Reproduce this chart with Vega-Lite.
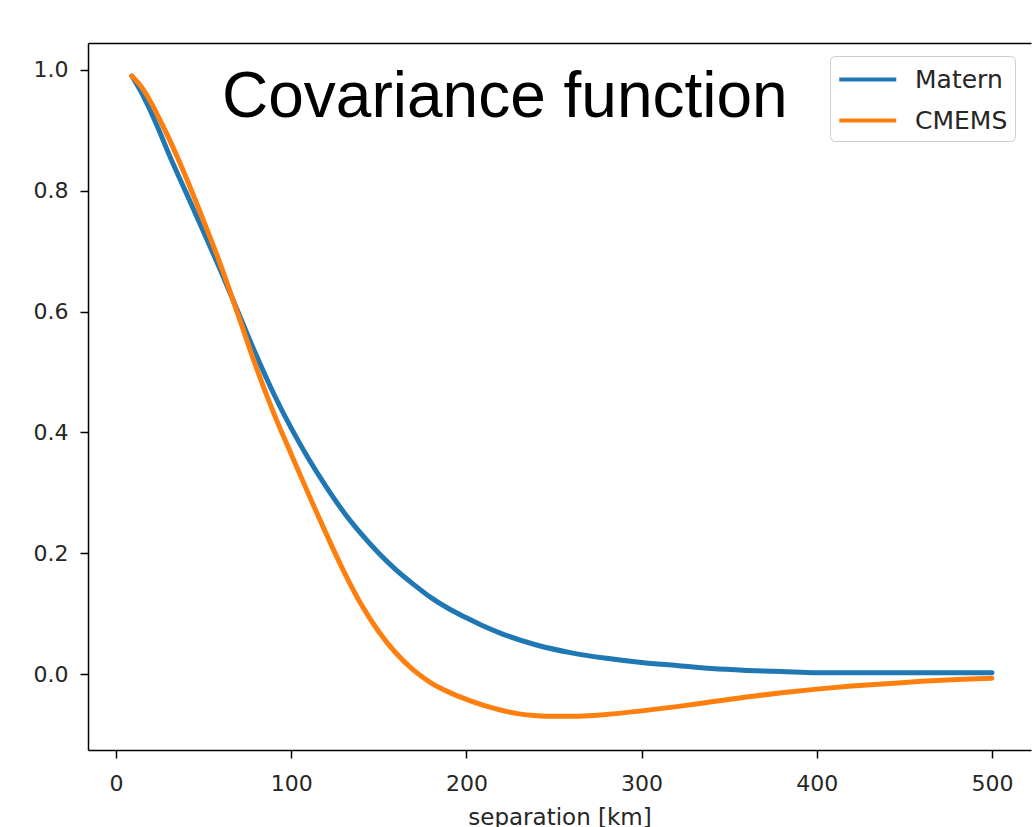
{
  "$schema": "https://vega.github.io/schema/vega-lite/v6.json",
  "width": 943,
  "height": 707,
  "autosize": {"type": "none"},
  "padding": {"left": 88, "top": 43, "right": 1, "bottom": 77},
  "background": "white",
  "config": {
    "view": {"stroke": null},
    "font": "DejaVu Sans",
    "axis": {
      "grid": false,
      "domainColor": "black",
      "domainWidth": 1.5,
      "tickColor": "black",
      "tickWidth": 1.5,
      "tickSize": 8,
      "labelFont": "DejaVu Sans",
      "labelFontSize": 22,
      "labelColor": "#262626",
      "titleFont": "DejaVu Sans",
      "titleFontWeight": "normal",
      "titleFontSize": 23,
      "titleColor": "#262626"
    }
  },
  "title": {
    "text": "Covariance function",
    "font": "Liberation Sans",
    "fontSize": 64,
    "fontWeight": "normal",
    "color": "black",
    "anchor": "start",
    "frame": "group",
    "orient": "top",
    "baseline": "alphabetic",
    "dx": 134,
    "offset": -138
  },
  "data": {
    "values": [
      {"separation": 9, "cov": 0.990, "model": "Matern"},
      {"separation": 15, "cov": 0.960, "model": "Matern"},
      {"separation": 20, "cov": 0.930, "model": "Matern"},
      {"separation": 25, "cov": 0.897, "model": "Matern"},
      {"separation": 30, "cov": 0.862, "model": "Matern"},
      {"separation": 40, "cov": 0.797, "model": "Matern"},
      {"separation": 50, "cov": 0.732, "model": "Matern"},
      {"separation": 60, "cov": 0.666, "model": "Matern"},
      {"separation": 70, "cov": 0.597, "model": "Matern"},
      {"separation": 80, "cov": 0.528, "model": "Matern"},
      {"separation": 90, "cov": 0.464, "model": "Matern"},
      {"separation": 100, "cov": 0.407, "model": "Matern"},
      {"separation": 110, "cov": 0.356, "model": "Matern"},
      {"separation": 120, "cov": 0.310, "model": "Matern"},
      {"separation": 130, "cov": 0.268, "model": "Matern"},
      {"separation": 140, "cov": 0.232, "model": "Matern"},
      {"separation": 150, "cov": 0.200, "model": "Matern"},
      {"separation": 160, "cov": 0.172, "model": "Matern"},
      {"separation": 170, "cov": 0.148, "model": "Matern"},
      {"separation": 180, "cov": 0.126, "model": "Matern"},
      {"separation": 190, "cov": 0.108, "model": "Matern"},
      {"separation": 200, "cov": 0.093, "model": "Matern"},
      {"separation": 210, "cov": 0.079, "model": "Matern"},
      {"separation": 220, "cov": 0.067, "model": "Matern"},
      {"separation": 240, "cov": 0.048, "model": "Matern"},
      {"separation": 260, "cov": 0.035, "model": "Matern"},
      {"separation": 280, "cov": 0.026, "model": "Matern"},
      {"separation": 300, "cov": 0.019, "model": "Matern"},
      {"separation": 320, "cov": 0.014, "model": "Matern"},
      {"separation": 340, "cov": 0.009, "model": "Matern"},
      {"separation": 360, "cov": 0.006, "model": "Matern"},
      {"separation": 380, "cov": 0.004, "model": "Matern"},
      {"separation": 400, "cov": 0.002, "model": "Matern"},
      {"separation": 450, "cov": 0.002, "model": "Matern"},
      {"separation": 500, "cov": 0.002, "model": "Matern"},
      {"separation": 9, "cov": 0.990, "model": "CMEMS"},
      {"separation": 15, "cov": 0.970, "model": "CMEMS"},
      {"separation": 20, "cov": 0.946, "model": "CMEMS"},
      {"separation": 25, "cov": 0.918, "model": "CMEMS"},
      {"separation": 30, "cov": 0.888, "model": "CMEMS"},
      {"separation": 35, "cov": 0.856, "model": "CMEMS"},
      {"separation": 40, "cov": 0.822, "model": "CMEMS"},
      {"separation": 50, "cov": 0.750, "model": "CMEMS"},
      {"separation": 60, "cov": 0.675, "model": "CMEMS"},
      {"separation": 70, "cov": 0.592, "model": "CMEMS"},
      {"separation": 80, "cov": 0.508, "model": "CMEMS"},
      {"separation": 90, "cov": 0.432, "model": "CMEMS"},
      {"separation": 100, "cov": 0.364, "model": "CMEMS"},
      {"separation": 110, "cov": 0.297, "model": "CMEMS"},
      {"separation": 120, "cov": 0.232, "model": "CMEMS"},
      {"separation": 130, "cov": 0.170, "model": "CMEMS"},
      {"separation": 140, "cov": 0.115, "model": "CMEMS"},
      {"separation": 150, "cov": 0.070, "model": "CMEMS"},
      {"separation": 160, "cov": 0.034, "model": "CMEMS"},
      {"separation": 170, "cov": 0.006, "model": "CMEMS"},
      {"separation": 180, "cov": -0.015, "model": "CMEMS"},
      {"separation": 190, "cov": -0.030, "model": "CMEMS"},
      {"separation": 200, "cov": -0.042, "model": "CMEMS"},
      {"separation": 210, "cov": -0.052, "model": "CMEMS"},
      {"separation": 220, "cov": -0.060, "model": "CMEMS"},
      {"separation": 230, "cov": -0.066, "model": "CMEMS"},
      {"separation": 240, "cov": -0.069, "model": "CMEMS"},
      {"separation": 250, "cov": -0.070, "model": "CMEMS"},
      {"separation": 260, "cov": -0.070, "model": "CMEMS"},
      {"separation": 270, "cov": -0.069, "model": "CMEMS"},
      {"separation": 280, "cov": -0.067, "model": "CMEMS"},
      {"separation": 300, "cov": -0.061, "model": "CMEMS"},
      {"separation": 320, "cov": -0.054, "model": "CMEMS"},
      {"separation": 340, "cov": -0.046, "model": "CMEMS"},
      {"separation": 360, "cov": -0.038, "model": "CMEMS"},
      {"separation": 380, "cov": -0.031, "model": "CMEMS"},
      {"separation": 400, "cov": -0.025, "model": "CMEMS"},
      {"separation": 420, "cov": -0.020, "model": "CMEMS"},
      {"separation": 440, "cov": -0.016, "model": "CMEMS"},
      {"separation": 460, "cov": -0.012, "model": "CMEMS"},
      {"separation": 480, "cov": -0.009, "model": "CMEMS"},
      {"separation": 500, "cov": -0.007, "model": "CMEMS"}
    ]
  },
  "resolve": {"axis": {"x": "independent"}},
  "layer": [
    {
      "mark": {"type": "line", "strokeWidth": 5, "interpolate": "monotone", "strokeCap": "round"},
      "encoding": {
        "x": {
          "field": "separation",
          "type": "quantitative",
          "scale": {"domain": [-16, 522.3], "nice": false, "zero": false},
          "axis": {
            "orient": "bottom",
            "values": [0, 100, 200, 300, 400, 500],
            "labelPadding": 15,
            "title": "separation [km]",
            "titlePadding": 12
          }
        },
        "y": {
          "field": "cov",
          "type": "quantitative",
          "scale": {"domain": [-0.1258, 1.0447], "nice": false, "zero": false},
          "axis": {
            "values": [0, 0.2, 0.4, 0.6, 0.8, 1.0],
            "format": ".1f",
            "labelPadding": 12,
            "title": null
          }
        },
        "color": {
          "field": "model",
          "type": "nominal",
          "scale": {"domain": ["Matern", "CMEMS"], "range": ["#1f77b4", "#ff7f0e"]},
          "legend": {
            "title": null,
            "orient": "none",
            "legendX": 742,
            "legendY": 13,
            "symbolType": "M-1,0H3",
            "symbolSize": 812,
            "symbolStrokeWidth": 4,
            "labelFont": "DejaVu Sans",
            "labelFontSize": 25,
            "labelColor": "#262626",
            "labelOffset": 45,
            "padding": 7,
            "rowPadding": 11,
            "strokeColor": "#cccccc",
            "fillColor": "white",
            "cornerRadius": 5
          }
        },
        "order": {"field": "separation", "type": "quantitative"}
      }
    },
    {
      "mark": {"type": "line", "opacity": 0},
      "encoding": {
        "x": {
          "field": "separation",
          "type": "quantitative",
          "axis": {"orient": "top", "labels": false, "ticks": false, "title": null}
        },
        "y": {"field": "cov", "type": "quantitative"},
        "detail": {"field": "model", "type": "nominal"}
      }
    }
  ]
}
